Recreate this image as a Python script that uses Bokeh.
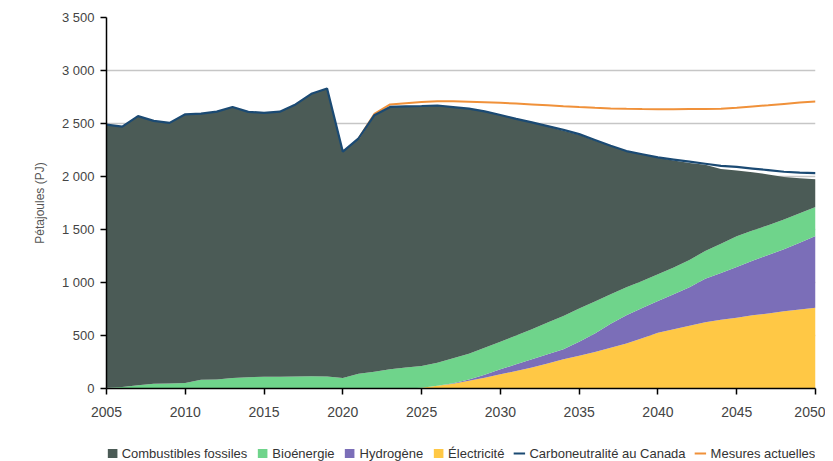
from bokeh.plotting import figure
from bokeh.layouts import column
from bokeh.models import ColumnDataSource, Legend, LegendItem, FixedTicker, Range1d
from bokeh.embed import file_html
from bokeh.resources import INLINE

years = list(range(2005, 2051))
fossil = [2482, 2455, 2539, 2481, 2458, 2534, 2512, 2527, 2556, 2503,
          2490, 2500, 2567, 2664, 2717, 2134, 2221, 2421, 2474, 2465,
          2453, 2427, 2370, 2312, 2230, 2138, 2044, 1952, 1850, 1747,
          1640, 1520, 1400, 1285, 1195, 1103, 1010, 915, 815, 705,
          621, 550, 480, 400, 330, 263]
bio = [8, 15, 31, 44, 48, 53, 82, 85, 100, 107,
       110, 112, 113, 116, 113, 100, 138, 157, 182, 197,
       204, 218, 235, 243, 255, 261, 272, 283, 300, 315,
       315, 300, 280, 265, 255, 252, 252, 258, 262, 275,
       290, 285, 280, 282, 278, 273]
hyd = [0] * 22 + [5, 13, 28, 47, 63, 77, 86, 95,
                  130, 175, 225, 265, 285, 299, 330, 363, 410, 442,
                  478, 515, 552, 585, 631, 677]
elec = [0] * 20 + [8, 25, 45, 72, 102, 134, 165, 198, 236, 275,
                   310, 345, 385, 425, 475, 526, 560, 592, 625, 648,
                   668, 690, 708, 728, 745, 762]
net_zero = [2490, 2470, 2570, 2525, 2506, 2587, 2594, 2612, 2656, 2610,
            2600, 2612, 2680, 2780, 2830, 2234, 2359, 2578, 2656, 2662,
            2665, 2670, 2655, 2640, 2615, 2580, 2544, 2510, 2475, 2440,
            2400, 2345, 2290, 2240, 2210, 2180, 2160, 2140, 2120, 2100,
            2090, 2075, 2060, 2045, 2037, 2032]
cm_years = list(range(2021, 2051))
current = [2359, 2590, 2680, 2692, 2702, 2710, 2710, 2705, 2700, 2695,
           2688, 2680, 2672, 2663, 2655, 2648, 2642, 2638, 2636, 2635,
           2635, 2636, 2637, 2640, 2648, 2660, 2672, 2685, 2697, 2708]

x_ticks = [2005, 2010, 2015, 2020, 2025, 2030, 2035, 2040, 2045, 2050]
y_ticks = [0, 500, 1000, 1500, 2000, 2500, 3000, 3500]
y_tick_labels = ["0", "500", "1 000", "1 500", "2 000", "2 500", "3 000", "3 500"]

series_names = ["Électricité", "Hydrogène", "Bioénergie", "Combustibles fossiles"]
series_colors = ["#ffc845", "#7b6eb8", "#6fd48b", "#4b5b56"]
line_names = ["Carboneutralité au Canada", "Mesures actuelles"]
line_colors = ["#1b4a73", "#f0913a"]

FONT = "Liberation Sans"

src = ColumnDataSource(dict(year=years, elec=elec, hyd=hyd, bio=bio, fossil=fossil, nz=net_zero))
src_cm = ColumnDataSource(dict(year=cm_years, cm=current))

p = figure(width=825, height=444, output_backend="svg", toolbar_location=None,
           x_range=Range1d(2005, 2050), y_range=Range1d(0, 3500),
           min_border_left=106, min_border_right=10, min_border_top=17, min_border_bottom=56)
p.outline_line_color = None
p.background_fill_color = "white"
p.border_fill_color = "white"

areas = p.varea_stack(stackers=["elec", "hyd", "bio", "fossil"], x="year",
                      color=series_colors, source=src)
p.line("year", "cm", source=src_cm, line_color=line_colors[1], line_width=2)
p.line("year", "nz", source=src, line_color=line_colors[0], line_width=2.2)

p.xgrid.grid_line_color = None
p.ygrid.grid_line_color = "#c6c6c6"
p.ygrid.grid_line_width = 1.5
p.ygrid.ticker = FixedTicker(ticks=y_ticks)

p.xaxis.ticker = FixedTicker(ticks=x_ticks)
p.yaxis.ticker = FixedTicker(ticks=y_ticks)
p.yaxis.major_label_overrides = {v: s for v, s in zip(y_ticks, y_tick_labels)}
for ax in (p.xaxis, p.yaxis):
    ax.axis_line_color = "black"
    ax.axis_line_width = 1.5
    ax.major_tick_line_color = "black"
    ax.major_tick_line_width = 1.5
    ax.major_tick_out = 6
    ax.major_tick_in = 0
    ax.minor_tick_line_color = None
    ax.major_label_text_font = FONT
    ax.major_label_text_color = "#444444"
p.xaxis.major_label_text_font_size = "14px"
p.yaxis.major_label_text_font_size = "13px"
p.xaxis.major_label_standoff = 12
p.yaxis.major_label_standoff = 6
p.yaxis.axis_label = "Pétajoules (PJ)"
p.yaxis.axis_label_text_font = FONT
p.yaxis.axis_label_text_font_style = "normal"
p.yaxis.axis_label_text_font_size = "12px"
p.yaxis.axis_label_text_color = "#555555"
p.yaxis.axis_label_standoff = 12

# legend strip (separate figure so the legend sits below the axis)
lg = figure(width=825, height=17, output_backend="svg", toolbar_location=None,
            x_range=Range1d(0, 1), y_range=Range1d(0, 1),
            x_axis_location=None, y_axis_location=None,
            min_border_left=106, min_border_right=10, min_border_top=0, min_border_bottom=0)
lg.outline_line_color = None
lg.grid.visible = False
# one off-range point per proxy so the legend swatches get drawn; nothing shows in the strip
proxy = ColumnDataSource(dict(x=[-1.0], y1=[-1.0], y2=[-1.0]))
legend_order = [3, 2, 1, 0]
items = []
for i in legend_order:
    r = lg.varea(x="x", y1="y1", y2="y2", color=series_colors[i], source=proxy)
    items.append(LegendItem(label=series_names[i], renderers=[r]))
for name, col in zip(line_names, line_colors):
    r = lg.line(x="x", y="y1", line_color=col, line_width=2.2, source=proxy)
    items.append(LegendItem(label=name, renderers=[r]))
legend = Legend(items=items, orientation="horizontal", location="center",
                label_text_font=FONT, label_text_font_size="13px", label_text_color="#333333",
                glyph_width=12, glyph_height=11, label_standoff=4, spacing=9,
                padding=0, margin=0, border_line_color=None, background_fill_alpha=0)
lg.add_layout(legend, "center")

layout = column(p, lg, spacing=0)
open("out.html", "w").write(file_html(layout, INLINE))
